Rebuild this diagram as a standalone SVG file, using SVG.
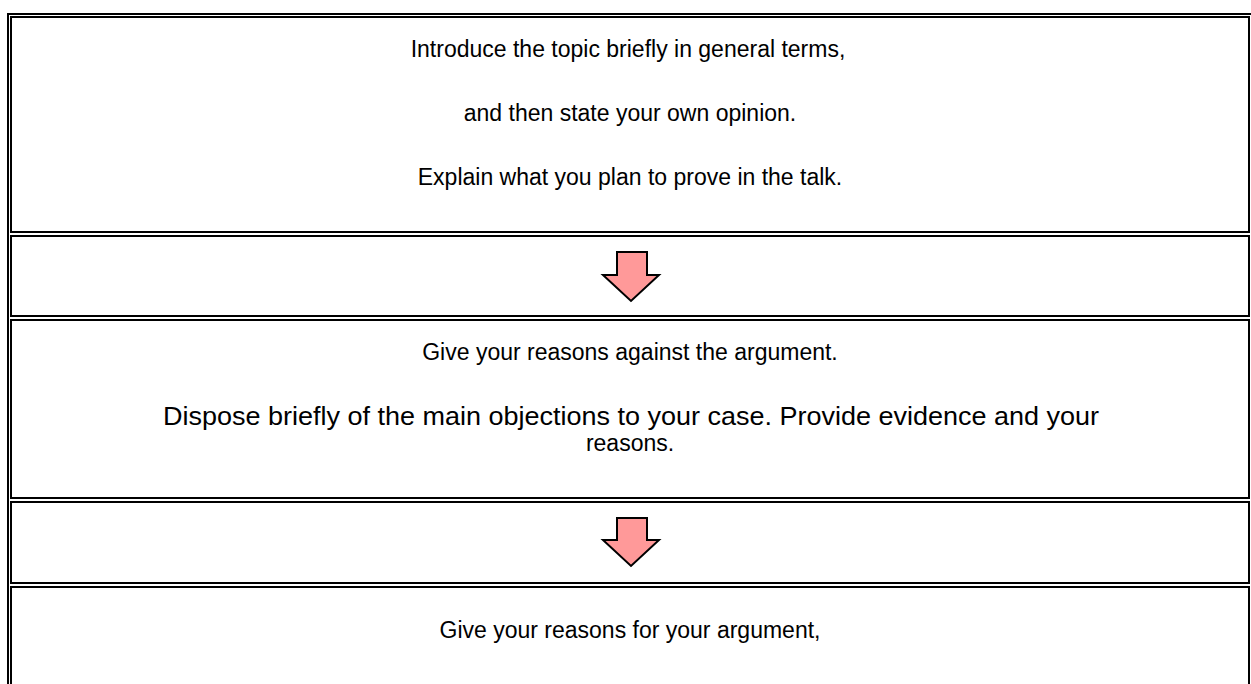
<svg xmlns="http://www.w3.org/2000/svg" width="1251" height="684" viewBox="0 0 1251 684">
<style>
.cell{fill:none;stroke:#000;stroke-width:2}
.t{font-family:"Liberation Sans",Arial,sans-serif;font-size:23px;fill:#000;text-anchor:middle}
.arr{fill:#FF9999;stroke:#000;stroke-width:2;stroke-linejoin:miter}
</style>
<rect width="1251" height="684" fill="#fff"/>
<g id="table">
<rect x="8" y="14" width="1300" height="1000" class="cell"/>
</g>
<g id="node1">
<rect x="11" y="17" width="1238" height="215" class="cell"/>
<text class="t" x="628" y="57">Introduce the topic briefly in general terms,</text>
<text class="t" x="630" y="121">and then state your own opinion.</text>
<text class="t" x="630" y="185">Explain what you plan to prove in the talk.</text>
</g>
<g id="node2">
<rect x="11" y="236" width="1238" height="80" class="cell"/>
</g>
<g id="node3">
<rect x="11" y="320" width="1238" height="178" class="cell"/>
<text class="t" x="630" y="360">Give your reasons against the argument.</text>
<text class="t" x="631" y="425" style="font-size:26px" textLength="936" lengthAdjust="spacingAndGlyphs">Dispose briefly of the main objections to your case. Provide evidence and your</text>
<text class="t" x="630" y="451">reasons.</text>
</g>
<g id="node4">
<rect x="11" y="502" width="1238" height="81" class="cell"/>
</g>
<g id="node5">
<rect x="11" y="587" width="1238" height="200" class="cell"/>
<text class="t" x="630" y="638">Give your reasons for your argument,</text>
</g>
<g id="connectors">
<polygon class="arr" points="617,252 647,252 647,275 659,275 631,301 603,275 617,275"/>
<polygon class="arr" points="617,518 647,518 647,540 659,540 631,566 603,540 617,540"/>
</g>
</svg>
